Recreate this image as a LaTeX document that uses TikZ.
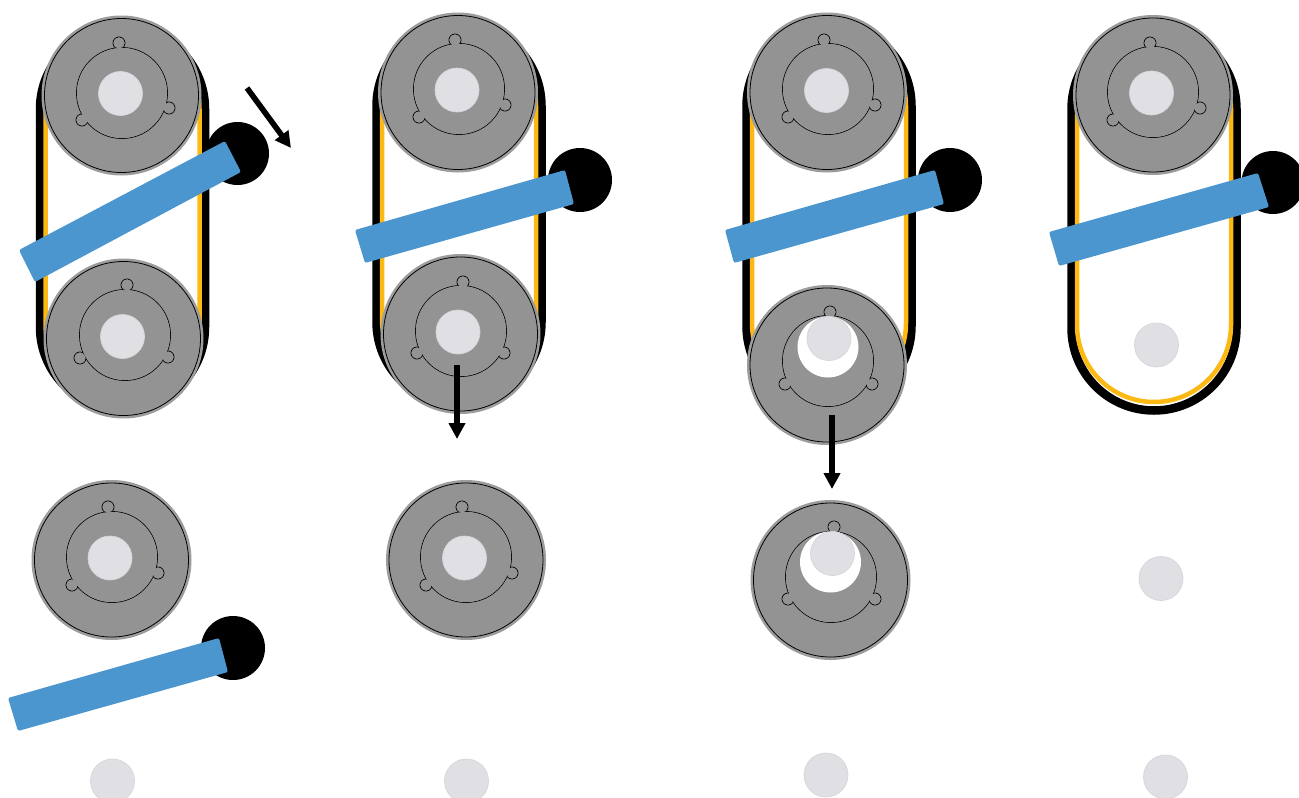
\documentclass[tikz,border=0pt]{standalone}
\usetikzlibrary{arrows.meta}
\definecolor{pulleygray}{HTML}{939393}
\definecolor{rimgray}{HTML}{9C9C9C}
\definecolor{beltyellow}{HTML}{FDB913}
\definecolor{barblue}{HTML}{4B96CE}
\definecolor{hubfill}{HTML}{E0E0E4}
\definecolor{hubedge}{HTML}{D6D6DA}
\tikzset{
  hubdisc/.style={fill=hubfill,draw=hubedge,line width=0.7pt},
  barshape/.style={fill=barblue,rounded corners=2pt},
  camdisc/.style={fill=black},
  pusharrow/.style={line width=5.6pt,-{Triangle[length=16pt,width=16pt]}},
  beltblack/.style={draw=black,line width=8.5pt},
  beltyel/.style={draw=beltyellow,line width=4.5pt}
}
% #1 centre x, #2 top arc y, #3 bottom arc y
\newcommand{\beltloop}[3]{%
  \draw[beltblack] (#1-82.5,#2) arc[start angle=180,end angle=360,radius=82.5] -- (#1+82.5,#3) arc[start angle=0,end angle=180,radius=82.5] -- cycle;
  \draw[beltyel] (#1-77,#2) arc[start angle=180,end angle=360,radius=77] -- (#1+77,#3-3) arc[start angle=0,end angle=180,radius=77] -- cycle;
}
% #1 centre, #2 ring centre, #3 #4 #5 lobe centres
\newcommand{\pulley}[5]{%
  \fill[rimgray] (#1) circle[radius=80];
  \draw[fill=pulleygray,line width=0.8pt] (#1) circle[radius=77];
  \draw[line width=0.8pt] (#2) circle[radius=45.5];
  \foreach \lobe in {#3,#4,#5} { \draw[line width=0.8pt] \lobe circle[radius=6]; }
  \fill[pulleygray] (#2) circle[radius=45.1];
  \foreach \lobe in {#3,#4,#5} { \fill[pulleygray] \lobe circle[radius=5.6]; }
}
\begin{document}
\begin{tikzpicture}[x=1pt,y=-1pt]
\clip (0,0) rectangle (1299,798);
\fill[white] (0,0) rectangle (1299,798);

% belts
\beltloop{122.5}{109}{327}
\beltloop{459}{106}{322}
\beltloop{829}{106}{326}
\beltloop{1154}{109}{328}

% cams
\fill[camdisc] (237.5,153.5) circle[radius=31.5];
\fill[camdisc] (580,180) circle[radius=32];
\fill[camdisc] (950,180) circle[radius=32];
\fill[camdisc] (1273,182.5) circle[radius=31.5];
\fill[camdisc] (233,648) circle[radius=32];

% pulleys
\pulley{121.5,95.5}{122,93}{(119,43)}{(169,108)}{(82,120)}
\pulley{123.5,338.5}{125,335}{(127,285)}{(168,357)}{(80,358)}
\pulley{458,92.5}{459,89}{(455,40)}{(505,105)}{(419,117)}
\pulley{460.5,334}{461,331}{(463,282)}{(504,353)}{(417,353)}
\pulley{827,92.5}{828,89}{(824,40)}{(875,105)}{(788,117)}
\pulley{827,365}{828,361}{(830,312)}{(872,384)}{(785,384)}
\pulley{1153,95}{1153,92}{(1150,43)}{(1200,108)}{(1113,120)}
\pulley{111.5,560}{112,557}{(108,507)}{(158,573)}{(72,585)}
\pulley{466,560}{466,557}{(462,507)}{(512,573)}{(426,585)}
\pulley{830.5,580}{831,577}{(834,527)}{(875,599)}{(788,599)}

% white holes
\fill[white] (828,347) circle[radius=30.5];
\fill[white] (830.5,562) circle[radius=30.5];

% hubs
\draw[hubdisc] (120.5,93.5) circle[radius=22];
\draw[hubdisc] (122.5,336.5) circle[radius=22];
\draw[hubdisc] (457,90) circle[radius=22];
\draw[hubdisc] (458,332) circle[radius=22];
\draw[hubdisc] (826.5,90.5) circle[radius=22];
\draw[hubdisc] (829,338.5) circle[radius=22];
\draw[hubdisc] (1151.5,93) circle[radius=22];
\draw[hubdisc] (110,558) circle[radius=22];
\draw[hubdisc] (464.5,558) circle[radius=22];
\draw[hubdisc] (832.5,553.5) circle[radius=22];
\draw[hubdisc] (1156.5,345) circle[radius=22];
\draw[hubdisc] (1161,578.5) circle[radius=22];
\draw[hubdisc] (112.5,781) circle[radius=22];
\draw[hubdisc] (466.5,781) circle[radius=22];
\draw[hubdisc] (826,775) circle[radius=22];
\draw[hubdisc] (1165.5,777) circle[radius=22];

% bars
\fill[barshape] (19,250) -- (225,141) -- (241,172) -- (35,282) -- cycle;
\fill[barshape] (355,230) -- (565,170) -- (574,204) -- (365,263) -- cycle;
\fill[barshape] (725,230) -- (935,170) -- (944,204) -- (734,263) -- cycle;
\fill[barshape] (1049,232) -- (1258,173) -- (1269,207) -- (1059,266) -- cycle;
\fill[barshape] (8,698) -- (219,638) -- (228,672) -- (18,731) -- cycle;

% arrows
\coordinate (a1s) at (247,88); \coordinate (a1e) at (291,148);
\coordinate (a2s) at (457,365); \coordinate (a2e) at (457,439);
\coordinate (a3s) at (832,415); \coordinate (a3e) at (832,489);
\draw[pusharrow] (a1s) -- (a1e);
\draw[pusharrow] (a2s) -- (a2e);
\draw[pusharrow] (a3s) -- (a3e);
\end{tikzpicture}
\end{document}
